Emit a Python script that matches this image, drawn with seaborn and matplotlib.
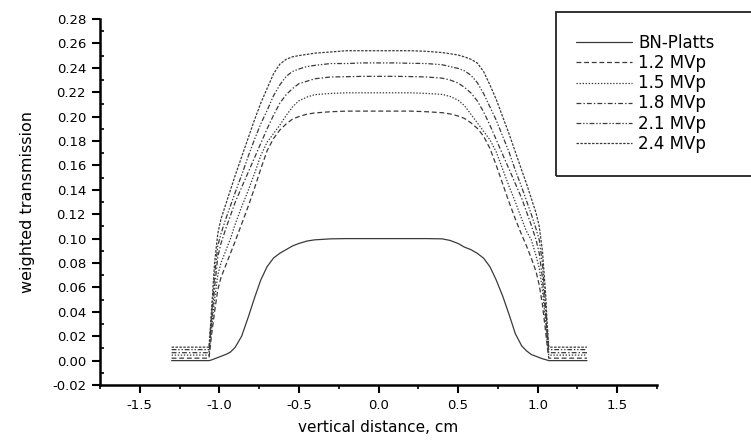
import matplotlib
matplotlib.use("Agg")
import matplotlib.pyplot as plt
import seaborn as sns
from matplotlib.patches import Rectangle
from matplotlib.ticker import MultipleLocator, FormatStrFormatter

# vertical distance across the beam, cm
distance = [-1.30, -1.20, -1.10, -1.065, -1.05, -1.03, -1.01, -0.99, -0.96, -0.93,
            -0.90, -0.86, -0.82, -0.78, -0.74, -0.70, -0.66, -0.62, -0.58, -0.54,
            -0.50, -0.45, -0.40, -0.30, -0.20, -0.10, 0.00,
            0.10, 0.20, 0.30, 0.40, 0.45, 0.50, 0.54, 0.58, 0.62, 0.66,
            0.70, 0.74, 0.78, 0.82, 0.86, 0.90, 0.93, 0.96, 0.99, 1.01,
            1.03, 1.05, 1.06, 1.07, 1.10, 1.20, 1.31]

bn_platts = [0.0, 0.0, 0.0, 0.0, 0.0005, 0.0015, 0.0025, 0.0035, 0.005, 0.007,
             0.011, 0.020, 0.035, 0.051, 0.066, 0.077, 0.084, 0.088, 0.091, 0.094,
             0.096, 0.098, 0.099, 0.0998, 0.100, 0.100, 0.100,
             0.100, 0.100, 0.100, 0.0998, 0.0985, 0.096, 0.093, 0.091, 0.088, 0.084,
             0.077, 0.066, 0.053, 0.038, 0.022, 0.012, 0.008, 0.005, 0.0035, 0.0025,
             0.0015, 0.0008, 0.0004, 0.0, 0.0, 0.0, 0.0]

mvp_1_2 = [0.002, 0.002, 0.002, 0.002, 0.020, 0.040, 0.058, 0.068, 0.078, 0.088,
           0.098, 0.112, 0.126, 0.141, 0.157, 0.172, 0.182, 0.189, 0.194, 0.198,
           0.200, 0.202, 0.203, 0.204, 0.2045, 0.2045, 0.2045,
           0.2045, 0.2045, 0.204, 0.2032, 0.2022, 0.2005, 0.1985, 0.195, 0.1905, 0.184,
           0.174, 0.160, 0.145, 0.130, 0.116, 0.103, 0.094, 0.084, 0.073, 0.062,
           0.046, 0.024, 0.012, 0.002, 0.002, 0.002, 0.002]

mvp_1_5 = [0.0045, 0.0045, 0.0045, 0.0045, 0.025, 0.050, 0.070, 0.080, 0.090, 0.100,
           0.112, 0.126, 0.139, 0.153, 0.168, 0.179, 0.186, 0.193, 0.201, 0.208,
           0.213, 0.216, 0.218, 0.219, 0.2195, 0.2195, 0.2195,
           0.2195, 0.2195, 0.219, 0.2182, 0.2165, 0.2135, 0.209, 0.202, 0.195, 0.188,
           0.181, 0.171, 0.157, 0.143, 0.130, 0.116, 0.106, 0.099, 0.086, 0.076,
           0.058, 0.032, 0.016, 0.0045, 0.0045, 0.0045, 0.0045]

mvp_1_8 = [0.0065, 0.0065, 0.0065, 0.0065, 0.030, 0.060, 0.085, 0.096, 0.108, 0.119,
           0.130, 0.142, 0.154, 0.166, 0.178, 0.190, 0.201, 0.211, 0.218, 0.223,
           0.227, 0.229, 0.231, 0.2325, 0.2327, 0.233, 0.233,
           0.233, 0.2328, 0.2325, 0.2315, 0.230, 0.2275, 0.224, 0.2195, 0.213, 0.204,
           0.193, 0.181, 0.169, 0.157, 0.145, 0.133, 0.122, 0.111, 0.099, 0.088,
           0.068, 0.038, 0.020, 0.0065, 0.0065, 0.0065, 0.0065]

mvp_2_1 = [0.009, 0.009, 0.009, 0.009, 0.035, 0.070, 0.094, 0.104, 0.116, 0.127,
           0.138, 0.152, 0.167, 0.181, 0.194, 0.205, 0.217, 0.226, 0.233, 0.237,
           0.239, 0.241, 0.242, 0.2435, 0.2435, 0.244, 0.244,
           0.244, 0.2437, 0.2435, 0.2425, 0.241, 0.2395, 0.2375, 0.234, 0.228, 0.219,
           0.208, 0.197, 0.184, 0.171, 0.156, 0.142, 0.131, 0.120, 0.108, 0.099,
           0.080, 0.045, 0.025, 0.009, 0.009, 0.009, 0.009]

mvp_2_4 = [0.011, 0.011, 0.011, 0.011, 0.040, 0.080, 0.104, 0.116, 0.128, 0.140,
           0.152, 0.167, 0.182, 0.197, 0.211, 0.223, 0.235, 0.243, 0.247, 0.249,
           0.250, 0.251, 0.252, 0.253, 0.254, 0.254, 0.254,
           0.254, 0.254, 0.2535, 0.2525, 0.2515, 0.2505, 0.249, 0.247, 0.244, 0.237,
           0.226, 0.214, 0.200, 0.186, 0.171, 0.156, 0.145, 0.133, 0.121, 0.110,
           0.090, 0.055, 0.030, 0.011, 0.011, 0.011, 0.011]

series_labels = ["BN-Platts", "1.2 MVp", "1.5 MVp", "1.8 MVp", "2.1 MVp", "2.4 MVp"]
series_values = [bn_platts, mvp_1_2, mvp_1_5, mvp_1_8, mvp_2_1, mvp_2_4]
series_styles = [
    "-",
    (0, (3.5, 2.0)),
    (0, (1.0, 1.2)),
    (0, (3.5, 1.5, 1.0, 1.5)),
    (0, (3.5, 1.3, 1.0, 1.3, 1.0, 1.3)),
    (0, (1.8, 1.0)),
]

sns.set_theme(style="ticks")
plt.rcParams["font.family"] = ["DejaVu Sans"]
plt.rcParams["axes.unicode_minus"] = False
plt.rcParams["lines.scale_dashes"] = False

fig = plt.figure(figsize=(7.51, 4.42), dpi=100)
fig.patch.set_facecolor("white")
ax = fig.add_axes([100 / 751, 1 - 385 / 442, 557 / 751, 366 / 442])

for label, values, style in zip(series_labels, series_values, series_styles):
    sns.lineplot(x=distance, y=values, ax=ax, color="#3a3a3a", linewidth=0.9,
                 linestyle=style, label=label, estimator=None, sort=False)

ax.set_xlim(-1.75, 1.75)
ax.set_ylim(-0.02, 0.28)
ax.xaxis.set_major_locator(MultipleLocator(0.5))
ax.xaxis.set_minor_locator(MultipleLocator(0.25))
ax.yaxis.set_major_locator(MultipleLocator(0.02))
ax.yaxis.set_minor_locator(MultipleLocator(0.01))
ax.xaxis.set_major_formatter(FormatStrFormatter("%.1f"))
ax.yaxis.set_major_formatter(FormatStrFormatter("%.2f"))

for side in ("top", "right"):
    ax.spines[side].set_visible(False)
for side in ("left", "bottom"):
    ax.spines[side].set_linewidth(1.8)
    ax.spines[side].set_color("black")

ax.tick_params(axis="both", which="major", direction="out", length=6, width=1.5,
               color="black", labelsize=9.5, labelcolor="black", pad=4)
ax.tick_params(axis="x", which="minor", direction="out", length=3, width=1.2, color="black")
ax.tick_params(axis="y", which="minor", direction="in", length=3, width=1.2, color="black")

ax.set_xlabel("vertical distance, cm", fontsize=11, color="black", labelpad=6)
ax.set_ylabel("weighted transmission", fontsize=11.5, color="black", labelpad=12)

leg = ax.legend(loc="upper left", bbox_to_anchor=(576 / 751, 1 - 34 / 442),
                bbox_transform=fig.transFigure, frameon=False, fontsize=12,
                handlelength=3.36, handletextpad=0.36, labelspacing=0.13,
                borderpad=0, borderaxespad=0)
for txt in leg.get_texts():
    txt.set_color("black")

# legend frame running off the right edge of the figure
fig.add_artist(Rectangle((556 / 751, 1 - 176 / 442), 250 / 751, 164 / 442,
                         transform=fig.transFigure, fill=False, linewidth=1.3,
                         edgecolor="#222222", clip_on=False))

fig.savefig("out.png", dpi=100, facecolor="white")
